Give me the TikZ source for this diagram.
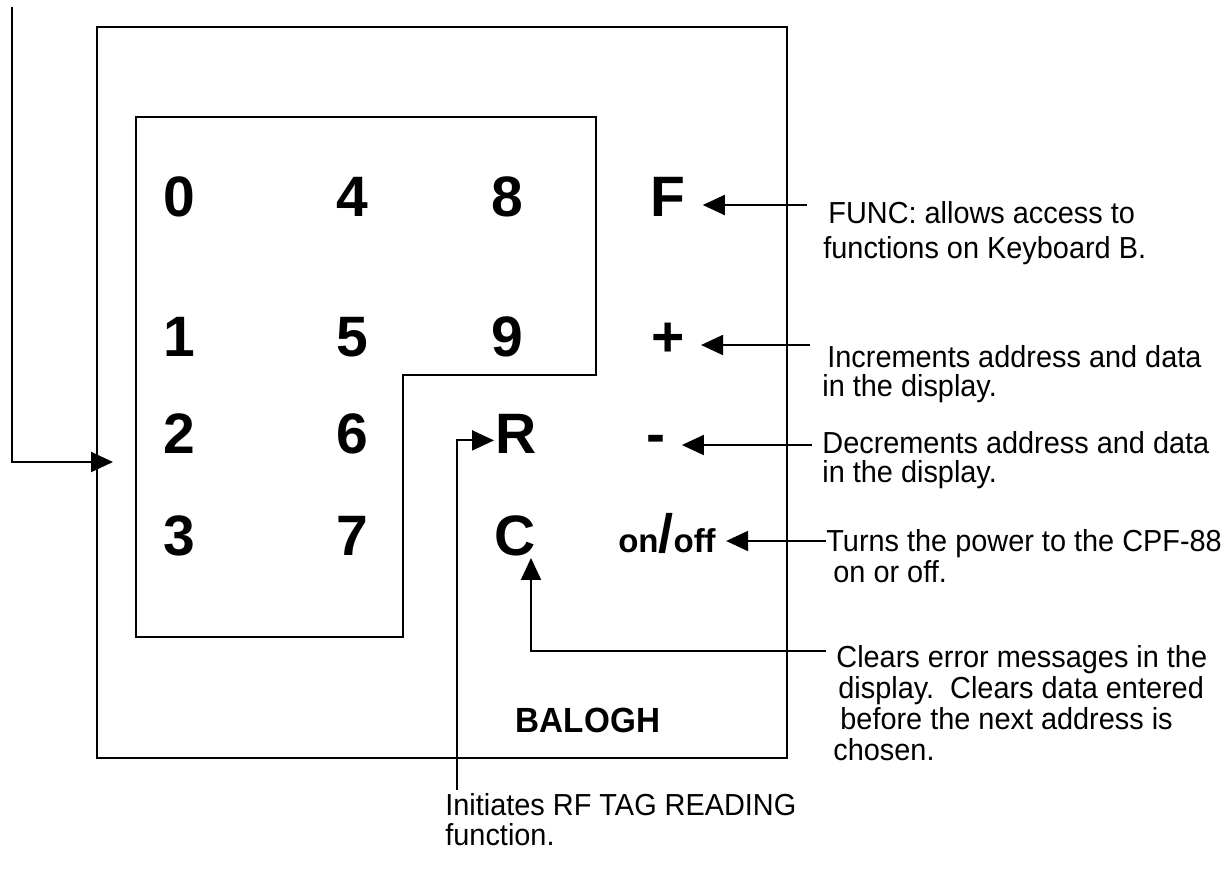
\documentclass[tikz,border=0pt]{standalone}
\usepackage{fontspec}
\setmainfont{Liberation Sans}
\newfontfamily\narrowfont{Liberation Sans}[FakeStretch=0.95]
\usetikzlibrary{arrows.meta}

\begin{document}
\begin{tikzpicture}[x=0.5pt, y=-0.5pt, line join=miter,
  key/.style={font=\fontsize{28.5}{30}\selectfont\bfseries, inner sep=0pt, anchor=base},
  note/.style={align=left, anchor=north west, inner sep=0pt},
  lead/.style={line width=1pt, -{Triangle[length=11pt,width=10pt]}}]
  \useasboundingbox (0,0) rectangle (1227,869);

  % ---------- housing and key field ----------
  \node[draw, line width=1.2pt, inner sep=0pt, minimum width=345pt, minimum height=365.5pt]
    (housing) at (442,392.5) {};
  \draw[line width=1.2pt] (136,117) -- (596,117) -- (596,375) -- (403,375)
    -- (403,637) -- (136,637) -- cycle;

  % ---------- keys ----------
  \node[key] (k0) at (179,216) {0};
  \node[key] (k4) at (352,216) {4};
  \node[key] (k8) at (507,216) {8};
  \node[key] (kF) at (668,216) {F};
  \node[key] (k1) at (179,356) {1};
  \node[key] (k5) at (352,356) {5};
  \node[key] (k9) at (507,356) {9};
  \node[key] (kPlus) at (668,356) {+};
  \node[key] (k2) at (179,453) {2};
  \node[key] (k6) at (352,453) {6};
  \node[key] (kR) at (516,453) {R};
  \node[key] (kMinus) at (656,453) {-};
  \node[key] (k3) at (179,555) {3};
  \node[key] (k7) at (352,555) {7};
  \node[key] (kC) at (515,555) {C};
  \node[key, font=\fontsize{16.5}{20}\selectfont\bfseries] (kOn) at (667,552)
    {on\fontsize{27}{30}\selectfont/\fontsize{16.5}{20}\selectfont off};
  \node[font=\narrowfont\fontsize{17.5}{20}\selectfont\bfseries, inner sep=0pt] (brand) at (588,720) {BALOGH};

  % ---------- notes ----------
  \node[note, font=\narrowfont\fontsize{15.2}{17.5}\selectfont] (fNote) at (823,201)
    {\hspace*{2.5pt}FUNC: allows access to\\functions on Keyboard B.};
  \node[note, font=\narrowfont\fontsize{15.2}{14.4}\selectfont] (plusNote) at (822,345)
    {\hspace*{2.5pt}Increments address and data\\in the display.};
  \node[note, font=\narrowfont\fontsize{15.2}{14.4}\selectfont] (minusNote) at (822,431)
    {Decrements address and data\\in the display.};
  \node[note, font=\narrowfont\fontsize{15.2}{15.5}\selectfont] (onNote) at (826,529)
    {Turns the power to the CPF-88\\\hspace*{3.5pt}on or off.};
  \node[note, font=\narrowfont\fontsize{15.2}{15.5}\selectfont] (cNote) at (833,645)
    {\hspace*{1.5pt}Clears error messages in the\\\hspace*{2.5pt}display.\ \ Clears data entered\\\hspace*{3.5pt}before the next address is\\chosen.};
  \node[note, font=\narrowfont\fontsize{15.2}{15}\selectfont] (rNote) at (445,793)
    {Initiates RF TAG READING\\function.};

  % ---------- leads ----------
  \coordinate (kbIn) at (12,7);
  \coordinate (kbTip) at (113,462);
  \coordinate (fIn) at (807,205);
  \coordinate (plusIn) at (810,345);
  \coordinate (minusIn) at (812,445);
  \coordinate (onIn) at (826,541);
  \coordinate (cIn) at (826,651);
  \coordinate (rIn) at (457,790);
  \draw[lead] (kbIn) |- (kbTip);
  \draw[lead, shorten >=8.5pt] (fIn) -- (kF.east |- fIn);
  \draw[lead, shorten >=8pt] (plusIn) -- (kPlus.east |- plusIn);
  \draw[lead, shorten >=8pt] (minusIn) -- (kMinus.east |- minusIn);
  \draw[lead, shorten >=5pt] (onIn) -- (kOn.east |- onIn);
  \draw[lead, shorten >=1pt] (cIn) -| ([xshift=8pt]kC.south);
  \draw[lead, shorten >=0.5pt] (rIn) |- ([yshift=-3.5pt]kR.west);
\end{tikzpicture}
\end{document}
